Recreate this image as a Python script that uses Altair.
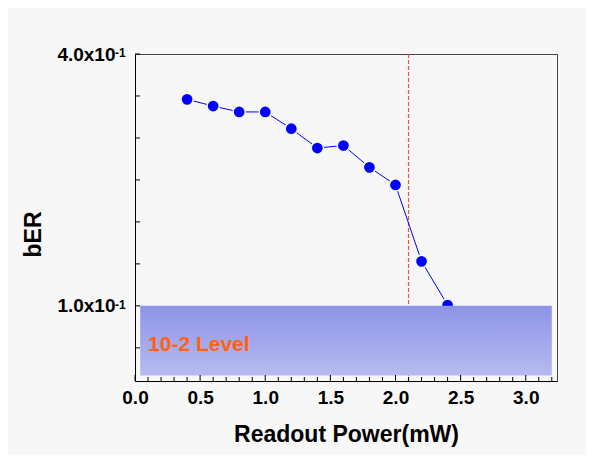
import altair as alt
import pandas as pd

# ---- data ----
power = [0.4, 0.6, 0.8, 1.0, 1.2, 1.4, 1.6, 1.8, 2.0, 2.2, 2.4]
ber = [0.346, 0.338, 0.331, 0.331, 0.311, 0.288, 0.291, 0.265, 0.244, 0.153, 0.101]

x_label_values = [0.0, 0.5, 1.0, 1.5, 2.0, 2.5, 3.0]
x_minor_ticks = [0.1, 0.2, 0.3, 0.4, 0.6, 0.7, 0.8, 0.9, 1.1, 1.2, 1.3, 1.4,
                 1.6, 1.7, 1.8, 1.9, 2.1, 2.2, 2.3, 2.4, 2.6, 2.7, 2.8, 2.9,
                 3.1, 3.2]
y_tick_values = [0.05, 0.1, 0.15, 0.2, 0.25, 0.3, 0.35, 0.4]
y_label_values = [0.1, 0.4]
y_label_mantissa = ["1.0x10", "4.0x10"]
y_label_exponent = ["-1", "-1"]

threshold_x = [2.1]
band_x = [0.04, 3.2]
band_y = [0.017, 0.1]
band_label = ["10-2 Level"]
band_label_pos = [0.1, 0.046]

W, H = 422, 327
FONT = "Liberation Sans"

xs = alt.Scale(domain=[0, 3.24], nice=False, zero=False)
ys = alt.Scale(domain=[0.0105, 0.4], nice=False, zero=False)

df = pd.DataFrame({"power": power, "ber": ber})

x_axis = alt.Axis(values=x_label_values, format=".1f", ticks=False, grid=False,
                  labelFlush=False, labelPadding=7, labelFontSize=19,
                  labelFontWeight="bold", domainColor="black", domainWidth=1,
                  title="Readout Power(mW)", titleFontSize=23, titleFontWeight="bold",
                  titleX=W / 2, titleY=60, titleAlign="center", titleBaseline="alphabetic")
y_axis = alt.Axis(values=y_label_values, ticks=False, grid=False,
                  labelExpr="datum.value > 0.2 ? '4.0x10' : '1.0x10'",
                  labelFlush=False, labelPadding=20, labelFontSize=19,
                  labelFontWeight="bold", labelBaseline="middle", labelAlign="right",
                  domainColor="black", domainWidth=1,
                  title="bER", titleFontSize=23, titleFontWeight="bold",
                  titleAngle=270, titleX=-95, titleY=180, titleAlign="center",
                  titleBaseline="alphabetic")

# red dashed threshold line
rule = alt.Chart(pd.DataFrame({"x": threshold_x})).mark_rule(
    color="#ff4a3a", strokeDash=[4, 2], strokeWidth=1.2
).encode(x=alt.X("x:Q", scale=xs, axis=x_axis))

line = alt.Chart(df).mark_line(color="#0000ff", strokeWidth=1).encode(
    x=alt.X("power:Q", scale=xs, axis=x_axis),
    y=alt.Y("ber:Q", scale=ys, axis=y_axis),
)

points = alt.Chart(df).mark_circle(
    size=150, fill="#0000ff", opacity=1, stroke="#f7f7f7", strokeWidth=1.5
).encode(
    x=alt.X("power:Q", scale=xs, axis=x_axis),
    y=alt.Y("ber:Q", scale=ys, axis=y_axis),
)

band_df = pd.DataFrame({"x0": [band_x[0]], "x1": [band_x[1]],
                        "y0": [band_y[0]], "y1": [band_y[1]]})
band = alt.Chart(band_df).mark_rect(
    fill=alt.LinearGradient(
        gradient="linear",
        stops=[alt.GradientStop(color="#8d94e6", offset=0),
               alt.GradientStop(color="#b6baf1", offset=1)],
        x1=0, x2=0, y1=0, y2=1,
    ),
    opacity=1,
).encode(
    x=alt.X("x0:Q", scale=xs, axis=x_axis), x2="x1:Q",
    y=alt.Y("y1:Q", scale=ys, axis=y_axis), y2="y0:Q",
)

label_df = pd.DataFrame({"x": [band_label_pos[0]], "y": [band_label_pos[1]],
                         "t": band_label})
band_text = alt.Chart(label_df).mark_text(
    align="left", baseline="alphabetic", font=FONT, fontSize=21,
    fontWeight="bold", color="#ff6310"
).encode(
    x=alt.X("x:Q", scale=xs, axis=x_axis),
    y=alt.Y("y:Q", scale=ys, axis=y_axis),
    text="t:N",
)

# inward ticks
xminor = alt.Chart(pd.DataFrame({"t": x_minor_ticks})).mark_rule(
    color="black", strokeWidth=1
).encode(x=alt.X("t:Q", scale=xs, axis=x_axis), y=alt.value(H), y2=alt.value(H - 4))
xmajor = alt.Chart(pd.DataFrame({"t": x_label_values})).mark_rule(
    color="black", strokeWidth=1
).encode(x=alt.X("t:Q", scale=xs, axis=x_axis), y=alt.value(H), y2=alt.value(H - 6))
yticks = alt.Chart(pd.DataFrame({"t": y_tick_values})).mark_rule(
    color="black", strokeWidth=1
).encode(y=alt.Y("t:Q", scale=ys, axis=y_axis), x=alt.value(0), x2=alt.value(5))

# superscript exponents of the y labels
sup_df = pd.DataFrame({"v": y_label_values, "e": y_label_exponent})
sup = alt.Chart(sup_df).mark_text(
    align="left", baseline="alphabetic", font=FONT, fontSize=12,
    fontWeight="bold", color="black", dy=3
).encode(
    y=alt.Y("v:Q", scale=ys, axis=y_axis), x=alt.value(-20), text="e:N"
)

chart = alt.layer(
    rule, line, points, band, band_text, xminor, xmajor, yticks, sup
).properties(
    width=W, height=H,
    autosize=alt.AutoSizeParams(type="none"),
    padding={"left": 127, "top": 46, "right": 29, "bottom": 74},
    background="#f7f7f7",
).configure(font=FONT).configure_view(
    stroke="#444444", strokeWidth=1
).configure_axis(
    labelColor="black", titleColor="black", labelFont=FONT, titleFont=FONT
)

chart.save("out.html", embed_options={"renderer": "svg", "actions": False})
